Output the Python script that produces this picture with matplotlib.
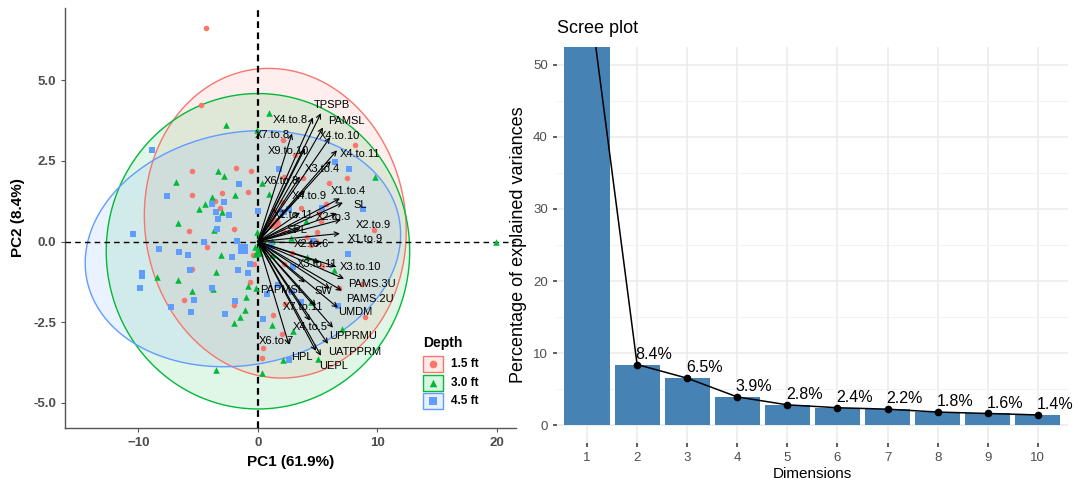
import numpy as np
import matplotlib
matplotlib.use("Agg")
import matplotlib.pyplot as plt
from matplotlib.patches import Polygon, Rectangle

plt.rcParams["font.family"] = ["Liberation Sans", "DejaVu Sans"]

# ---- PCA individuals (PC1, PC2) by sampling depth ----
depth_levels = ["1.5 ft", "3.0 ft", "4.5 ft"]

pts_15 = [
    (-4.38, 6.62), (-4.74, 4.23), (-5.52, 2.18), (-1.84, 2.29), (-0.59, 2.18),
    (-0.86, 1.55), (-5.52, 1.46), (-2.99, 1.50), (-3.57, 1.25), (-3.18, 1.03),
    (-2.01, 0.40), (-5.75, 0.34), (-4.24, -0.16), (-0.42, -0.43), (-5.50, -0.85),
    (-0.31, -0.69), (-0.67, -1.24), (-6.22, -1.80), (-2.01, -1.98),
    (2.12, 3.14), (3.10, 2.67), (8.12, 2.98), (3.79, 1.98), (5.94, 1.81),
    (7.42, 1.98), (2.03, 1.22), (3.60, 1.05), (5.69, 1.17), (2.18, 2.00),
    (1.34, 0.98), (5.27, 0.65), (1.09, 0.47), (2.12, 0.32), (4.91, 0.29),
    (4.85, 0.03), (4.41, -0.12), (4.07, 0.13), (2.82, -0.34), (2.18, -0.69),
    (5.33, -0.75), (6.75, -1.44), (2.26, -1.93), (1.28, -2.27), (2.03, -2.85),
    (5.13, 0.88), (9.71, 0.36), (8.68, -1.31), (8.95, -2.33), (0.44, -3.31),
    (0.30, -3.60),
]
pts_30 = [
    (-2.68, 3.60), (-0.10, 3.47), (-3.32, 2.20), (-2.85, 2.03), (-6.86, 1.85),
    (-1.92, 1.45), (-3.88, 1.38), (-4.44, 1.16), (-4.91, 1.02), (-2.99, 0.91),
    (-6.67, 0.57), (-3.66, 0.37), (-0.25, -0.18), (-3.07, -0.41), (-8.43, -1.09),
    (-3.51, -0.94), (-6.67, -1.19), (-0.86, -1.37), (-0.17, -1.44), (-3.74, -1.47),
    (-5.50, -1.54), (-1.00, -1.72), (-1.09, -2.11), (-1.53, -2.33), (-1.98, -2.51),
    (-3.51, -3.97),
    (0.92, 3.98), (9.82, 2.00), (0.36, 1.81), (0.92, 1.48), (4.02, 0.63),
    (2.73, 0.11), (1.20, 0.01), (1.20, -0.43), (4.07, -0.49), (6.39, -0.88),
    (4.41, -1.86), (1.15, -2.59), (2.96, -2.76), (7.00, -2.70), (2.12, -3.67),
    (5.05, -3.64), (0.31, -4.06), (19.90, 0.00),
    (0.05, 0.10), (0.20, -0.10), (0.10, -0.30), (-0.10, 0.30), (0.30, 0.05),
    (0.15, 0.20), (-0.20, -0.40), (0.40, -0.20),
]
pts_45 = [
    (-8.84, 2.84), (-1.56, 1.78), (-7.59, 1.41), (-2.85, 1.22), (-3.85, 1.18),
    (-3.51, 0.92), (-2.45, 0.84), (0.00, 0.96), (-3.35, 0.69), (-3.46, 0.38),
    (-10.49, 0.24), (-4.49, -0.01), (-1.76, 0.03), (-8.28, -0.22), (-6.58, -0.33),
    (-5.83, -0.43), (-2.20, -0.47), (-9.71, -0.98), (-9.71, -1.07), (-5.66, -0.88),
    (-1.67, -0.88), (-0.81, -0.96), (-0.64, -0.70), (-9.90, -1.43), (-3.88, -1.43),
    (-5.33, -1.80), (-1.95, -1.84), (-7.25, -2.02), (-5.58, -2.18), (-2.79, -2.23),
    (1.78, 2.25), (7.64, 2.24), (6.44, 2.46), (2.62, 1.02), (5.33, 1.05),
    (8.81, 1.02), (2.03, 0.91), (2.18, 0.93), (4.63, 0.01), (1.00, -0.18),
    (1.06, -0.15), (7.51, -0.40), (2.96, -0.80), (1.65, -1.34), (0.78, -1.61),
    (2.87, -1.57), (3.60, -1.88), (6.72, -1.99), (0.44, -2.40), (2.62, -3.67),
]

# group means and concentration ellipses (sd along PC1, PC2, correlation)
group_mean = [(1.45, 0.57), (0.00, -0.30), (-1.26, -0.22)]
ellipse_sd = [(10.96, 4.80), (12.70, 4.89), (13.20, 3.66)]
ellipse_r = [-0.05, 0.0, 0.12]

# ---- variable loadings (arrow tips) and label spots ----
var_names = [
    "TPSPB", "X4.to.8", "PAMSL", "X7.to.8", "X4.to.10", "X9.to.10", "X4.to.11",
    "X3.to.4", "X6.to.8", "X4.to.9", "X1.to.4", "SL", "X1.to.11", "X2.to.3",
    "X2.to.9", "SPL", "X1.to.9", "X2.to.6", "X3.to.11", "X3.to.10", "PAMS.3U",
    "PAMS.2U", "PAPMSL", "SW", "X7.to.11", "UMDM", "X4.to.5", "UPPRMU",
    "UATPPRM", "X6.to.7", "HPL", "UEPL",
]
var_pc1 = [5.27, 4.60, 5.44, 2.85, 6.03, 3.93, 6.61, 6.10, 3.51, 3.93, 6.86, 7.11,
           3.51, 6.61, 6.95, 3.51, 6.86, 5.36, 5.19, 6.53, 7.20, 7.03, 3.93, 6.03,
           4.85, 6.69, 4.35, 6.28, 5.86, 2.59, 4.85, 5.27]
var_pc2 = [3.98, 3.85, 3.54, 3.35, 3.23, 2.89, 2.83, 2.50, 2.02, 1.58, 1.34, 1.21,
           0.90, 0.87, 0.68, 0.40, 0.25, -0.06, -0.65, -0.78, -1.15, -1.52, -1.27,
           -1.46, -1.99, -2.05, -2.45, -2.67, -3.17, -3.20, -3.39, -3.54]
label_pos = [
    (6.17, 4.22), (2.68, 3.76), (7.42, 3.74), (1.23, 3.29), (6.80, 3.27),
    (2.54, 2.80), (8.54, 2.72), (5.41, 2.26), (1.98, 1.89), (4.30, 1.40),
    (7.56, 1.56), (8.54, 1.12), (2.96, 0.81), (6.30, 0.75), (9.65, 0.53),
    (3.30, 0.37), (8.95, 0.08), (4.49, -0.07), (4.91, -0.69), (8.54, -0.80),
    (9.51, -1.31), (9.37, -1.78), (1.98, -1.49), (5.47, -1.52), (3.79, -2.02),
    (8.12, -2.19), (4.35, -2.66), (7.98, -2.92), (8.12, -3.41), (1.51, -3.07),
    (3.66, -3.59), (6.30, -3.85),
]

# ---- scree values ----
dims = list(range(1, 11))
explained = [61.9, 8.4, 6.5, 3.9, 2.8, 2.4, 2.2, 1.8, 1.6, 1.4]

colors = ["#F8766D", "#00BA38", "#619CFF"]
markers = ["o", "^", "s"]
msizes = [16, 22, 14]


def ellipse_xy(center, sd, r, n=240):
    sx, sy = sd
    cov = np.array([[sx ** 2, r * sx * sy], [r * sx * sy, sy ** 2]])
    L = np.linalg.cholesky(cov)
    t = np.linspace(0, 2 * np.pi, n)
    p = L @ np.vstack([np.cos(t), np.sin(t)])
    return np.column_stack([center[0] + p[0], center[1] + p[1]])


fig = plt.figure(figsize=(10.8, 4.9), dpi=100)

# ================= biplot =================
ax = fig.add_axes([0.0602, 0.1265, 0.4176, 0.857])
ax.set_xlim(-16.15, 21.6)
ax.set_ylim(-5.78, 7.24)

for i in range(3):
    xy = ellipse_xy(group_mean[i], ellipse_sd[i], ellipse_r[i])
    ax.add_patch(Polygon(xy, closed=True, facecolor=colors[i], alpha=0.12,
                         edgecolor="none", zorder=1))
    ax.add_patch(Polygon(xy, closed=True, facecolor="none",
                         edgecolor=colors[i], lw=1.0, zorder=2))

ax.axhline(0, color="black", ls=(0, (4, 3)), lw=1.0, zorder=3)
ax.axvline(0, color="black", ls=(0, (3, 2)), lw=1.6, zorder=3)

for i, pts in enumerate([pts_15, pts_30, pts_45]):
    arr = np.array(pts)
    ax.scatter(arr[:, 0], arr[:, 1], s=msizes[i], marker=markers[i],
               color=colors[i], linewidths=0, zorder=4)
    ax.scatter([group_mean[i][0]], [group_mean[i][1]], s=60, marker=markers[i],
               color=colors[i], linewidths=0, zorder=4)

for name, x, y, (lx, ly) in zip(var_names, var_pc1, var_pc2, label_pos):
    ax.annotate("", xy=(x, y), xytext=(0, 0),
                arrowprops=dict(arrowstyle="->", color="black", lw=0.8,
                                shrinkA=0, shrinkB=0, mutation_scale=8),
                zorder=5)
    ax.text(lx, ly, name, fontsize=8, ha="center", va="center", zorder=6)

for s in ["top", "right"]:
    ax.spines[s].set_visible(False)
for s in ["left", "bottom"]:
    ax.spines[s].set_color("#555555")
    ax.spines[s].set_linewidth(1.0)
ax.set_xticks([-10, 0, 10, 20])
ax.set_yticks([-5, -2.5, 0, 2.5, 5])
ax.set_yticklabels(["-5.0", "-2.5", "0.0", "2.5", "5.0"])
ax.tick_params(colors="#555555", labelcolor="#4D4D4D", labelsize=9.5, length=3)
for lab in ax.get_xticklabels() + ax.get_yticklabels():
    lab.set_fontweight("bold")
ax.set_xlabel("PC1 (61.9%)", fontsize=11, fontweight="bold", labelpad=4)
ax.set_ylabel("PC2 (8.4%)", fontsize=11, fontweight="bold", labelpad=6)

# legend drawn in pixel space
lax = fig.add_axes([0, 0, 1, 1], facecolor="none")
lax.set_xlim(0, 1080)
lax.set_ylim(490, 0)
lax.axis("off")
lax.text(423, 343, "Depth", fontsize=10, fontweight="bold", va="center", ha="left")
for i, lbl in enumerate(depth_levels):
    y0 = 356 + i * 18.5
    lax.add_patch(Rectangle((423, y0), 20, 16, facecolor=colors[i], alpha=0.15,
                            edgecolor="none"))
    lax.add_patch(Rectangle((423, y0), 20, 16, facecolor="none",
                            edgecolor=colors[i], lw=1.0))
    lax.scatter([433], [y0 + 8], s=30, marker=markers[i], color=colors[i],
                linewidths=0)
    lax.text(451, y0 + 8, lbl, fontsize=8.5, fontweight="bold", va="center")

# ================= scree plot =================
ax2 = fig.add_axes([0.5157, 0.0959, 0.4731, 0.8082])
ax2.set_xlim(0.4, 10.6)
ax2.set_ylim(-2.5, 52.5)
ax2.set_yticks(range(0, 51, 10))
ax2.set_yticks(range(5, 50, 10), minor=True)
ax2.set_xticks(dims)
ax2.grid(which="major", color="#EBEBEB", lw=1.1, zorder=0)
ax2.grid(which="minor", axis="y", color="#F2F2F2", lw=0.8, zorder=0)
ax2.bar(dims, explained, width=0.9, color="#4682B4", zorder=2)
ax2.plot(dims, explained, color="black", lw=1.1, marker="o", ms=4.5, zorder=3)
for d, v in zip(dims, explained):
    ax2.annotate(f"{v}%", xy=(d, v), xytext=(-1, 2), textcoords="offset points",
                 ha="left", va="bottom", fontsize=11.5, zorder=4)
for s in ax2.spines.values():
    s.set_visible(False)
ax2.tick_params(axis="both", which="major", color="#333333", labelcolor="#4D4D4D",
                labelsize=9.5, length=3, width=1.1)
ax2.tick_params(which="minor", length=0)
ax2.set_xlabel("Dimensions", fontsize=11, labelpad=2)
ax2.set_ylabel("Percentage of explained variances", fontsize=13, labelpad=4)
ax2.set_title("Scree plot", fontsize=13, loc="left", pad=10)

fig.savefig("out.png", dpi=100)
